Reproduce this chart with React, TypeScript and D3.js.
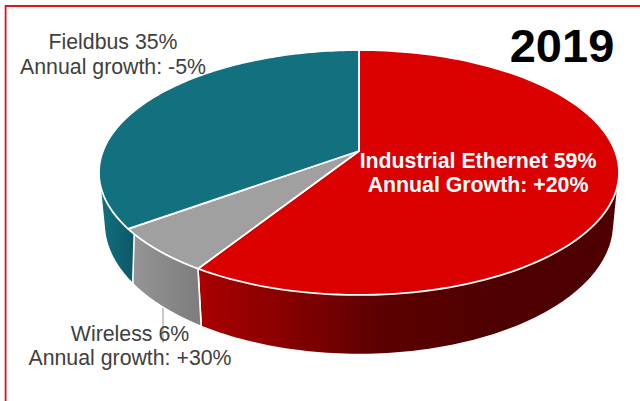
import React from "react";
import * as d3 from "d3";

// Share of each network technology in 2019, clockwise from twelve o'clock.
const segments = ["Industrial Ethernet", "Wireless", "Fieldbus"];
const shares = [59, 6, 35];
const growth = ["+20%", "+30%", "-5%"];
const topColors = ["#da0000", "#a0a0a0", "#12707f"];
const wallStops = [
  [["0", "#aa0000"], ["0.27", "#8a0000"], ["0.6", "#5c0000"], ["1", "#4e0000"]],
  [["0", "#969696"], ["1", "#7c7c7c"]],
  [["0", "#14707f"], ["1", "#0b5866"]],
];
// Angular range of the rim that faces the viewer, per segment (degrees).
const wallRanges: [number, number][] = [[75, 212.4], [212.4, 234], [234, 290]];
// Horizontal extent of each wall's shading.
const wallShade = [[198, 500], [130, 202], [100, 134]];

const WIDTH = 640;
const HEIGHT = 401;

// Perspective projection of a tilted disc.
const cx = 359;
const apexY = 151;
const radiusX = 256;
const radiusY = 118.7;
const tilt = 0.1755;

const toTop = (a: number): [number, number] => {
  const u = Math.sin(a);
  const v = -Math.cos(a);
  const w = 1 - tilt * v;
  return [cx + (radiusX * u) / w, apexY + (radiusY * v) / w];
};
const toBottom = (a: number): [number, number] => {
  const [x, y] = toTop(a);
  return [cx + (x - cx) * 0.98, 200.5 + (y - apexY) * 1.07];
};

const rad = d3.scaleLinear().domain([0, 360]).range([0, 2 * Math.PI]);
const line = d3.line<[number, number]>();
const sweep = (a0: number, a1: number) =>
  d3.range(0, 121).map((i) => a0 + ((a1 - a0) * i) / 120);

const pie = d3.pie<number>().sort(null).startAngle(0).endAngle(2 * Math.PI);
const arcs = pie(shares);

const topPath = (a0: number, a1: number) =>
  line([[cx, apexY], ...sweep(a0, a1).map(toTop)]) + "Z";
// Convex hull of both rims gives the straight silhouette at the disc's sides.
const wallPath = (a0: number, a1: number) =>
  line(d3.polygonHull([...sweep(a0, a1).map(toTop), ...sweep(a0, a1).map(toBottom)])!) + "Z";

const sansFont = "'Liberation Sans', Arial, sans-serif";

export default function App() {
  return (
    <svg
      width={WIDTH}
      height={HEIGHT}
      viewBox={`0 0 ${WIDTH} ${HEIGHT}`}
      style={{ position: "absolute", left: 0, top: 0, display: "block", background: "#fff" }}
    >
      <defs>
        {wallStops.map((stops, i) => (
          <linearGradient
            key={segments[i]}
            id={`wall-${i}`}
            gradientUnits="userSpaceOnUse"
            x1={wallShade[i][0]}
            x2={wallShade[i][1]}
            y1={0}
            y2={0}
          >
            {stops.map(([offset, color]) => (
              <stop key={offset} offset={offset} stopColor={color} />
            ))}
          </linearGradient>
        ))}
      </defs>

      {/* Slide frame: only the top and left edges fall inside the view */}
      <path d="M5.6 401V6H640" fill="none" stroke="#e8101a" strokeWidth={1.8} />

      {/* Side walls, then the top face over them */}
      {wallRanges.map((range, i) => (
        <path
          key={segments[i]}
          d={wallPath(rad(range[0]), rad(range[1]))}
          fill={`url(#wall-${i})`}
          stroke="#fff"
          strokeWidth={1.6}
          strokeLinejoin="round"
        />
      ))}
      {arcs.map((arc, i) => (
        <path
          key={segments[i]}
          d={topPath(arc.startAngle, arc.endAngle)}
          fill={topColors[i]}
          stroke="#fff"
          strokeWidth={1.8}
          strokeLinejoin="round"
        />
      ))}

      {/* Leader from the wireless wall to its label */}
      <line x1={163} y1={308} x2={163} y2={343} stroke="#a6a6a6" strokeWidth={1.2} />

      <g fontFamily={sansFont} fontSize={21.3} textAnchor="middle" fill="#404040">
        <text x={113} y={49}>{`${segments[2]} ${shares[2]}%`}</text>
        <text x={113} y={74}>{`Annual growth: ${growth[2]}`}</text>
        <text x={130} y={341}>{`${segments[1]} ${shares[1]}%`}</text>
        <text x={130} y={365}>{`Annual growth: ${growth[1]}`}</text>
      </g>
      <g fontFamily={sansFont} fontSize={21.3} fontWeight={700} textAnchor="middle" fill="#fff">
        <text x={478} y={168}>{`${segments[0]} ${shares[0]}%`}</text>
        <text x={478} y={192}>{`Annual Growth: ${growth[0]}`}</text>
      </g>
      <text x={562} y={62} fontFamily={sansFont} fontSize={47} fontWeight={700} textAnchor="middle" fill="#000">
        2019
      </text>
    </svg>
  );
}
